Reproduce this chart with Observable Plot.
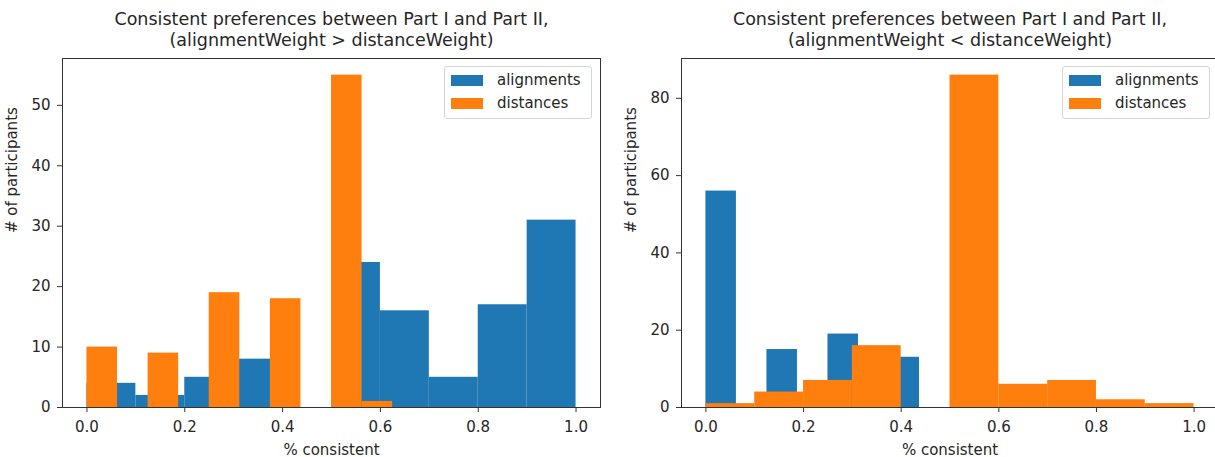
<!DOCTYPE html>
<html>
<head>
<meta charset="utf-8">
<script src="https://cdn.jsdelivr.net/npm/d3@7"></script>
<script src="https://cdn.jsdelivr.net/npm/@observablehq/plot@0.6"></script>
<style>
  html, body { margin: 0; padding: 0; background: #fff; overflow: hidden; }
  #wrap { position: relative; width: 1215px; height: 457px; overflow: hidden; font-family: "DejaVu Sans", sans-serif; }
  .panel { position: absolute; top: 0; }
  .legend { position: absolute; box-sizing: border-box; border: 1px solid #d4d4d4; border-radius: 3px;
            background: rgba(255,255,255,0.8); width: 148px; height: 53px; font-size: 15px; color: #262626; }
  .item { position: absolute; left: 6px; height: 11px; width: 150px; }
  .swatch { position: absolute; left: 0; top: 0; width: 32px; height: 11px; }
  .label { position: absolute; left: 46px; top: -4px; line-height: 18px; white-space: nowrap; }
</style>
</head>
<body>
<div id="wrap"></div>
<script>
// ---- data ----
const seriesNames = ["alignments", "distances"];
const seriesColors = ["#1f77b4", "#ff7f0e"];

const xTicks = [0.0, 0.2, 0.4, 0.6, 0.8, 1.0];
const leftYTicks = [0, 10, 20, 30, 40, 50];
const rightYTicks = [0, 20, 40, 60, 80];

const titleLine1 = "Consistent preferences between Part I and Part II,";
const leftTitleLine2 = "(alignmentWeight > distanceWeight)";
const rightTitleLine2 = "(alignmentWeight < distanceWeight)";
const xLabel = "% consistent";
const yLabel = "# of participants";

// left panel (alignmentWeight > distanceWeight)
const leftAlignEdges = [0.0, 0.1, 0.2, 0.3, 0.4, 0.5, 0.6, 0.7, 0.8, 0.9, 1.0];
const leftAlignCounts = [4, 2, 5, 8, 0, 24, 16, 5, 17, 31];
const leftDistEdges = [0.0, 0.0625, 0.125, 0.1875, 0.25, 0.3125, 0.375, 0.4375, 0.5, 0.5625, 0.625];
const leftDistCounts = [10, 0, 9, 0, 19, 0, 18, 0, 55, 1];

// right panel (alignmentWeight < distanceWeight)
const rightAlignEdges = [0.0, 0.0625, 0.125, 0.1875, 0.25, 0.3125, 0.375, 0.4375, 0.5, 0.5625, 0.625];
const rightAlignCounts = [56, 0, 15, 0, 19, 0, 13, 0, 0, 0];
const rightDistEdges = [0.0, 0.1, 0.2, 0.3, 0.4, 0.5, 0.6, 0.7, 0.8, 0.9, 1.0];
const rightDistCounts = [1, 4, 7, 16, 0, 86, 6, 7, 2, 1];

// ---- helpers ----
function toBins(edges, counts, series) {
  return counts.map((c, i) => ({x1: edges[i], x2: edges[i + 1], count: c, series}))
               .filter(d => d.count > 0);
}

const textColor = "#262626";

function panel({align, dist, yMax, yTicks, width, marginLeft, title2}) {
  return Plot.plot({
    width, height: 457,
    marginTop: 58, marginBottom: 50, marginLeft, marginRight: 10,
    x: {domain: [-0.05, 1.05]},
    y: {domain: [0, yMax]},
    color: {domain: seriesNames, range: seriesColors},
    style: {fontFamily: "DejaVu Sans", fontSize: "15px", color: textColor, background: "white", overflow: "visible"},
    marks: [
      Plot.rect(align, {x1: "x1", x2: "x2", y1: 0, y2: "count", fill: "series", inset: 0}),
      Plot.rect(dist, {x1: "x1", x2: "x2", y1: 0, y2: "count", fill: "series", inset: 0}),
      Plot.frame({stroke: "#333", strokeWidth: 1}),
      Plot.axisX({ticks: xTicks, tickFormat: d3.format(".1f"), tickSize: 5, tickPadding: 9, label: null, stroke: "#333"}),
      Plot.axisY({ticks: yTicks, tickSize: 5, tickPadding: 7, label: null, stroke: "#333"}),
      Plot.text([xLabel], {frameAnchor: "bottom", dy: 47, lineAnchor: "bottom", fill: textColor}),
      Plot.text([yLabel], {frameAnchor: "left", dx: -46, rotate: -90, lineAnchor: "bottom", fill: textColor}),
      Plot.text([titleLine1 + "\n" + title2], {frameAnchor: "top", dy: -13, lineAnchor: "bottom", lineHeight: 1.2, fontSize: 17.5, fill: textColor})
    ]
  });
}

function legend(left, top) {
  const box = document.createElement("div");
  box.className = "legend";
  box.style.left = left + "px";
  box.style.top = top + "px";
  seriesNames.forEach((name, i) => {
    const item = document.createElement("div");
    item.className = "item";
    item.style.top = (8 + i * 22.7) + "px";
    const sw = document.createElement("div");
    sw.className = "swatch";
    sw.style.background = seriesColors[i];
    const lb = document.createElement("div");
    lb.className = "label";
    lb.textContent = name;
    item.appendChild(sw);
    item.appendChild(lb);
    box.appendChild(item);
  });
  return box;
}

const wrap = document.getElementById("wrap");

const leftChart = panel({
  align: toBins(leftAlignEdges, leftAlignCounts, seriesNames[0]),
  dist: toBins(leftDistEdges, leftDistCounts, seriesNames[1]),
  yMax: 57.75, yTicks: leftYTicks, width: 610, marginLeft: 62, title2: leftTitleLine2
});
leftChart.classList.add("panel");
leftChart.style.left = "0px";
wrap.appendChild(leftChart);

const rightChart = panel({
  align: toBins(rightAlignEdges, rightAlignCounts, seriesNames[0]),
  dist: toBins(rightDistEdges, rightDistCounts, seriesNames[1]),
  yMax: 90.3, yTicks: rightYTicks, width: 618, marginLeft: 71, title2: rightTitleLine2
});
rightChart.classList.add("panel");
rightChart.style.left = "610px";
wrap.appendChild(rightChart);

wrap.appendChild(legend(444, 66));
wrap.appendChild(legend(1062, 66));
</script>
</body>
</html>
